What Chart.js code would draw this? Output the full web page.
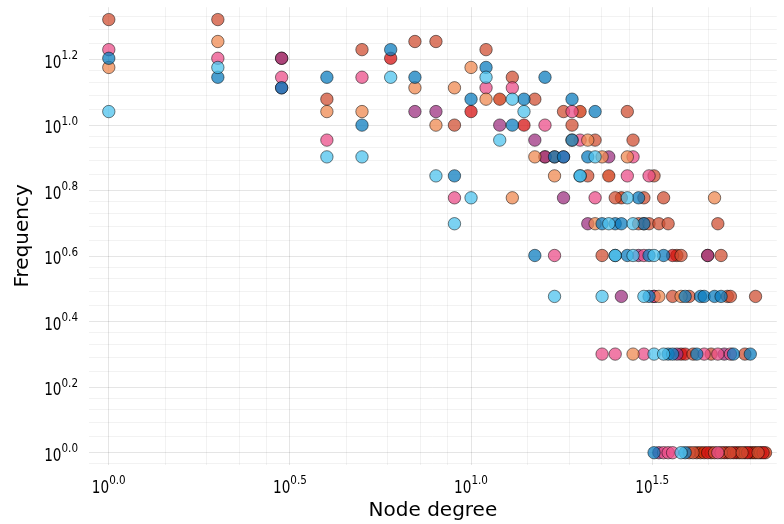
<!DOCTYPE html>
<html>
<head>
<meta charset="utf-8">
<script src="https://cdn.jsdelivr.net/npm/chart.js@4/dist/chart.umd.min.js"></script>
<style>
  body { margin: 0; background: #fff; }
</style>
</head>
<body>
<canvas id="chart" width="784" height="524"></canvas>
<script>
// tick labels are 10^e for these exponents
var xTickExps = [0.0, 0.5, 1.0, 1.5];
var yTickExps = [0.0, 0.2, 0.4, 0.6, 0.8, 1.0, 1.2];

// [node degree, frequency] per series
var coral = [[1,21],[2,21],[7,18],[8,18],[5,17],[11,17],[3,16],[13,14],[4,12],[15,12],[18,11],[27,11],[9,10],[19,10],[22,9],[28,9],[16,8],[21,7],[32,7],[25,6],[30,6],[34,6],[29,5],[31,5],[33,5],[35,5],[48,5],[23,4],[38,4],[45,4],[49,4],[36,3],[40,3],[51,3],[52,3],[61,3],[41,2],[46,2],[57,2],[40,1],[41,1],[47,1],[49,1],[52,1],[56,1],[62,1]];
var peach = [[2,18],[1,15],[10,15],[7,13],[9,13],[4,11],[5,11],[11,12],[8,10],[19,9],[21,9],[15,8],[23,8],[27,8],[17,7],[13,6],[47,6],[22,5],[33,3],[38,3],[28,2]];
var pink = [[1,17],[2,16],[3,14],[5,14],[4,9],[11,13],[13,13],[19,11],[16,10],[20,9],[28,8],[27,7],[31,7],[9,6],[22,6],[17,4],[30,4],[32,3],[23,2],[25,2],[30,2],[44,2],[48,2],[52,2],[34,1],[35,1],[36,1],[48,1]];
var blue = [[1,16],[2,14],[3,13],[4,14],[5,10],[6,17],[7,14],[10,12],[11,15],[14,12],[16,14],[19,12],[22,11],[13,10],[19,9],[17,8],[18,8],[21,8],[9,7],[20,7],[29,6],[23,5],[25,5],[26,5],[30,5],[15,4],[25,4],[27,4],[31,4],[34,4],[31,3],[39,3],[43,3],[44,3],[47,3],[49,3],[35,2],[36,2],[42,2],[53,2],[59,2],[32,1],[39,1]];
var lightBlue = [[1,11],[2,15],[6,14],[4,8],[5,8],[11,14],[13,12],[14,11],[12,9],[22,8],[8,7],[20,7],[10,6],[27,6],[9,5],[24,5],[28,5],[25,4],[28,4],[32,4],[17,3],[23,3],[30,3],[32,2],[34,2],[38,1]];
var purple = [[3,16],[3,13],[7,11],[8,11],[12,10],[15,9],[16,8],[18,8],[24,8],[18,6],[21,5],[29,4],[45,4],[26,3],[32,3],[37,2],[50,2],[33,1]];
var red = [[6,16],[10,11],[14,10],[36,4],[38,2],[39,2],[45,1],[50,1],[53,1],[58,1],[64,1]];
var orangeRed = [[12,12],[20,11],[17,8],[24,7],[26,6],[30,5],[37,4],[42,1],[43,1],[44,1],[46,1],[51,1],[54,1],[55,1],[57,1],[59,1],[60,1],[61,1],[63,1],[65,1]];

var FONT = '"DejaVu Sans", sans-serif';
var SX = 0.8; // tick labels are narrow in the original

function toPoints(arr) {
    return arr.map(function (p) { return {x: p[0], y: p[1]}; });
}

function series(arr, rgb) {
    return {
        data: toPoints(arr),
        backgroundColor: 'rgba(' + rgb + ',0.75)',
        borderColor: 'rgba(0,0,0,0.5)',
        borderWidth: 1,
        pointRadius: 6.2,
        pointHoverRadius: 6.2,
        clip: false
    };
}

// majors at 10^e, 4 linear minor lines between each pair
function buildTicks(exps, min, max) {
    var step = exps[1] - exps[0];
    var all = [exps[0] - step].concat(exps, [exps[exps.length - 1] + step]);
    var ticks = [];
    for (var i = 0; i < all.length; i++) {
        var a = Math.pow(10, all[i]);
        if (i > 0 && i < all.length - 1) ticks.push({value: a, major: true});
        if (i < all.length - 1) {
            var b = Math.pow(10, all[i + 1]);
            for (var k = 1; k < 5; k++) {
                var v = a + (b - a) * k / 5;
                if (v > min && v < max) ticks.push({value: v, major: false});
            }
        }
    }
    return ticks;
}

function gridColor(ctx) {
    return ctx.tick && ctx.tick.major ? 'rgba(0,0,0,0.1)' : 'rgba(0,0,0,0.05)';
}

function drawPow(ctx, e, x, y, align, supDy) {
    var base = '10', sup = e.toFixed(1);
    ctx.font = '17px ' + FONT;
    var w1 = ctx.measureText(base).width * SX;
    ctx.font = '13px ' + FONT;
    var w2 = ctx.measureText(sup).width * SX;
    var left = align === 'right' ? x - w1 - w2 : x - (w1 + w2) / 2;
    ctx.save();
    ctx.textAlign = 'left';
    ctx.textBaseline = 'alphabetic';
    ctx.translate(left, y);
    ctx.scale(SX, 1);
    ctx.font = '17px ' + FONT;
    ctx.fillText(base, 0, 0);
    ctx.font = '13px ' + FONT;
    ctx.fillText(sup, w1 / SX, supDy);
    ctx.restore();
}

var labelsPlugin = {
    id: 'powLabels',
    afterDraw: function (chart) {
        var ctx = chart.ctx, xs = chart.scales.x, ys = chart.scales.y;
        var area = chart.chartArea;
        ctx.save();
        ctx.fillStyle = '#000';
        xTickExps.forEach(function (e) {
            drawPow(ctx, e, xs.getPixelForValue(Math.pow(10, e)), 493.3, 'center', -9.3);
        });
        yTickExps.forEach(function (e) {
            drawPow(ctx, e, 78, ys.getPixelForValue(Math.pow(10, e)) + 8, 'right', -8.3);
        });
        ctx.font = '20px ' + FONT;
        ctx.textAlign = 'center';
        ctx.textBaseline = 'alphabetic';
        ctx.fillText('Node degree', (area.left + area.right) / 2, 516);
        ctx.translate(28, (area.top + area.bottom) / 2);
        ctx.rotate(-Math.PI / 2);
        ctx.fillText('Frequency', 0, 0);
        ctx.restore();
    }
};

new Chart(document.getElementById('chart'), {
    type: 'scatter',
    data: {
        datasets: [
            series(lightBlue, '79,195,238'),
            series(blue, '14,126,191'),
            series(peach, '239,138,82'),
            series(pink, '235,79,138'),
            series(purple, '157,51,130'),
            series(coral, '208,80,52'),
            series(red, '214,20,20'),
            series(orangeRed, '205,50,10')
        ]
    },
    options: {
        responsive: false,
        animation: false,
        events: [],
        layout: {padding: {left: 89, right: 0, top: 7, bottom: 59.5}},
        plugins: {legend: {display: false}, tooltip: {enabled: false}},
        scales: {
            x: {
                type: 'logarithmic',
                min: Math.pow(10, -0.0546),
                max: Math.pow(10, 1.844),
                afterBuildTicks: function (s) { s.ticks = buildTicks(xTickExps, s.min, s.max); },
                ticks: {display: false},
                grid: {color: gridColor, drawTicks: false, lineWidth: 1},
                border: {display: false}
            },
            y: {
                type: 'logarithmic',
                min: Math.pow(10, -0.036),
                max: Math.pow(10, 1.36),
                afterBuildTicks: function (s) { s.ticks = buildTicks(yTickExps, s.min, s.max); },
                ticks: {display: false},
                grid: {color: gridColor, drawTicks: false, lineWidth: 1},
                border: {display: false}
            }
        }
    },
    plugins: [labelsPlugin]
});
</script>
</body>
</html>
